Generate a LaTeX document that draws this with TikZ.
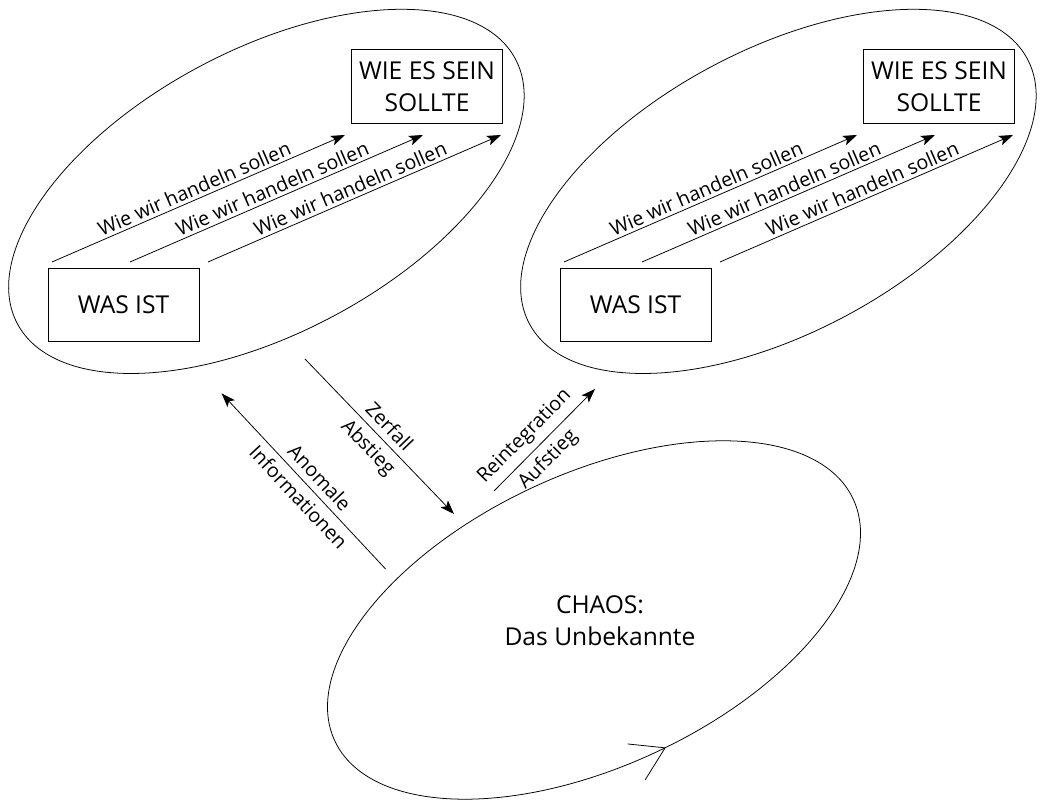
\documentclass[tikz,border=0pt]{standalone}
\usepackage{fontspec}
\setmainfont{Open Sans}
\usetikzlibrary{arrows.meta,decorations.markings}

\newcommand{\grossschrift}{\fontsize{17.5}{23}\selectfont}
\newcommand{\kleinschrift}{\fontsize{14}{17}\selectfont}

\tikzset{
  kasten/.style={draw, align=center, font=\grossschrift, inner sep=2pt,
    minimum width=3.77cm, minimum height=1.84cm},
  pfeil/.style={-{Stealth[length=3.5mm,width=2.5mm,inset=0.8mm]}},
  beschr/.style={font=\kleinschrift, sloped, inner sep=2pt},
  weg/.style={beschr, inner sep=4.5pt}
}

\begin{document}
\begin{tikzpicture}[line width=0.55pt]
  \useasboundingbox (0,0) rectangle (26.325,20.125);

  % die beiden oberen Ellipsen
  \foreach \s/\g in {0/a,12.8/b}{
    \begin{scope}[xshift=\s cm]
      \draw[rotate around={28:(6.66,15.34)}] (6.66,15.34) ellipse (7.05 and 3.54);
      \node[kasten] (ist\g) at (3.09,12.5) {WAS IST};
      \node[kasten] (soll\g) at (10.675,17.96) {WIE ES SEIN\\SOLLTE};
      \foreach \i in {0,1,2}{
        \coordinate (von\g\i) at (1.3+1.95*\i,13.575);
        \coordinate (nach\g\i) at (8.625+1.95*\i,16.75);
        \draw[pfeil] (von\g\i) -- (nach\g\i)
          node[beschr,midway,above]{Wie wir handeln sollen};
      }
    \end{scope}
  }

  % Chaos
  \node[font=\grossschrift, align=center] (chaos) at (15.0,4.6) {CHAOS:\\Das Unbekannte};
  \draw[rotate around={25:(14.85,4.625)}, postaction={decorate},
    decoration={markings, mark=at position 0.758 with
      {\arrow{Straight Barb[length=8mm,width=10mm]}}}]
    (14.85,4.625) ellipse (7.15 and 3.65);

  % Pfeile dazwischen
  \coordinate (anoA) at (9.64,5.9);
  \coordinate (anoB) at (5.54,10.29);
  \coordinate (zerA) at (7.625,11.15);
  \coordinate (zerB) at (11.35,7.275);
  \coordinate (reiA) at (12.35,7.85);
  \coordinate (reiB) at (14.875,10.4);
  \draw[pfeil] (anoA) -- (anoB)
    node[weg,pos=0.465,above]{Anomale}
    node[weg,pos=0.465,below]{Informationen};
  \draw[pfeil] (zerA) -- (zerB)
    node[weg,midway,above]{Zerfall}
    node[weg,midway,below]{Abstieg};
  \draw[pfeil] (reiA) -- (reiB)
    node[weg,pos=0.42,above]{Reintegration}
    node[weg,pos=0.42,below]{Aufstieg};
\end{tikzpicture}
\end{document}
